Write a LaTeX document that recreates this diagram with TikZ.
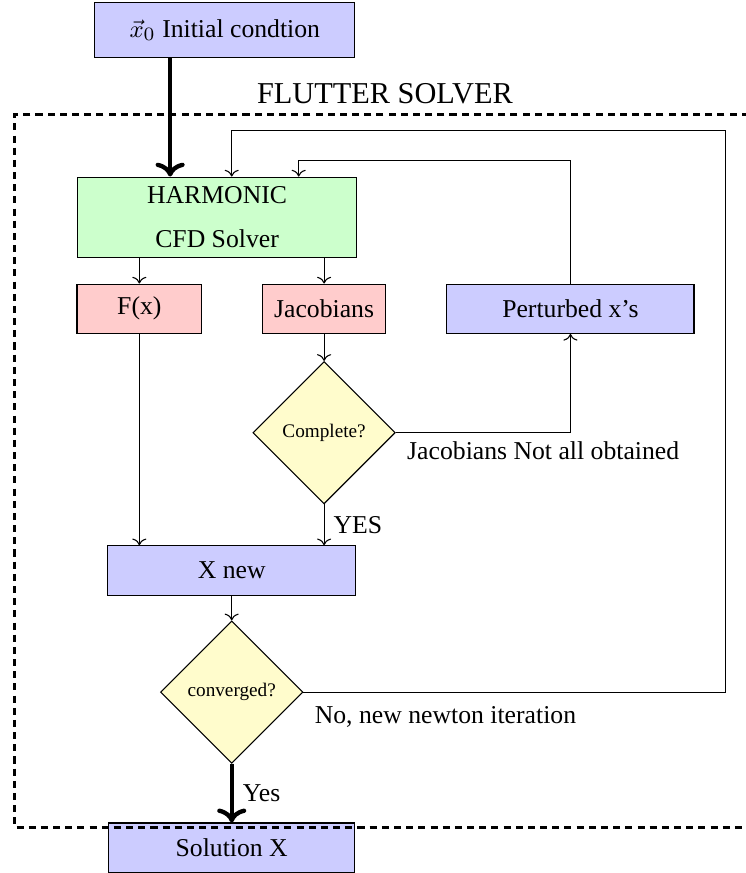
\documentclass[tikz,border=0pt]{standalone}
\usepackage{fontspec}
\setmainfont{Liberation Serif}
\usepackage{tikz}
\usetikzlibrary{positioning,shapes.geometric,arrows.meta}

\begin{document}
\begin{tikzpicture}[font=\fontsize{9.5}{11.4}\selectfont,
  box/.style={draw,minimum height=0.64cm,inner sep=2pt},
  dec/.style={draw,diamond,aspect=1,fill=yellow!20,minimum size=1.85cm,inner sep=0pt,font=\fontsize{7.1}{8.5}\selectfont},
  lbl/.style={inner sep=2pt}]
\useasboundingbox (0,0) rectangle (9.69,-11.34);
% Blocks
\node[box,fill=blue!20,minimum width=3.38cm,minimum height=0.71cm] (init) at (2.92,-0.39) {$\vec{x}_0$ Initial condtion};
\node[font=\fontsize{11.2}{13.4}\selectfont] (title) at (5.0,-1.22) {FLUTTER SOLVER};
\node[box,fill=green!20,minimum width=3.62cm,minimum height=1.04cm,align=center] (harm) at (2.82,-2.82) {HARMONIC\\[5pt]CFD Solver};
\node[box,fill=red!20,minimum width=1.62cm] (fx) at (1.81,-4.01) {F(x)};
\node[box,fill=red!20,minimum width=1.6cm] (jac) at (4.21,-4.01) {Jacobians};
\node[box,fill=blue!20,minimum width=3.21cm] (pert) at (7.41,-4.01) {Perturbed x's};
\node[dec] (comp) at (4.21,-5.62) {Complete?};
\node[box,fill=blue!20,minimum width=3.22cm] (xnew) at (3.01,-7.41) {X new};
\node[dec] (conv) at (3.01,-8.99) {converged?};
\node[box,fill=blue!20,minimum width=3.2cm] (sol) at (3.01,-11.01) {Solution X};
% Loop corners
\coordinate (loopR) at (9.42,-1.70);
\coordinate (loopP) at (3.88,-2.09);
% Flow
\draw[ultra thick,->] ([xshift=-0.71cm]init.south) -- ([xshift=-0.71cm]init.south |- harm.north);
\draw[->] (harm.south -| fx) -- (fx);
\draw[->] (harm.south -| jac) -- (jac);
\draw[->] (jac) -- (comp);
\draw[->] (comp) -| (pert);
\node[lbl,below right=1pt and 2pt of comp.east] (nolbl) {Jacobians Not all obtained};
\draw[->] (pert) |- (loopP) -- (loopP |- harm.north);
\draw[->] (comp) -- node[midway,right] {YES} (comp |- xnew.north);
\draw[->] (fx) -- (fx |- xnew.north);
\draw[->] (xnew) -- (conv);
\draw[->] (conv.east) -| (loopR) -| (conv |- harm.north);
\node[lbl,below right=3pt and 2pt of conv.east] (itlbl) {No, new newton iteration};
\draw[ultra thick,->] (conv) -- node[midway,right] {Yes} (sol);
% Solver frame
\draw[line width=1.1pt,dash pattern=on 2.6pt off 1.9pt] (10.2,-1.49) -- (0.19,-1.49) -- (0.19,-10.75) -- (10.2,-10.75);
\end{tikzpicture}
\end{document}
